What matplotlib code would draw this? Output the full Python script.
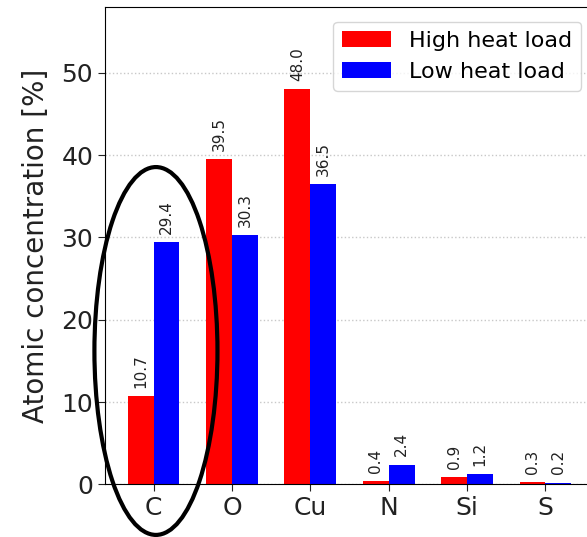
import matplotlib.pyplot as plt
from matplotlib.patches import Ellipse
import numpy as np

elements = ['C', 'O', 'Cu', 'N', 'Si', 'S']
high_load = [10.7, 39.5, 48.0, 0.4, 0.9, 0.3]
low_load = [29.4, 30.3, 36.5, 2.4, 1.2, 0.2]

x = np.arange(len(elements))
width = 0.33

fig = plt.figure(figsize=(5.87, 5.37), dpi=100)
ax = fig.add_axes([105 / 587, 1 - 484.3 / 537, 1 - 105 / 587, (484.3 - 7) / 537])

bars_hi = ax.bar(x - width / 2, high_load, width, color='red', label='High heat load', zorder=2)
bars_lo = ax.bar(x + width / 2, low_load, width, color='blue', label='Low heat load', zorder=2)

# value labels above every bar
for bars, vals in ((bars_hi, high_load), (bars_lo, low_load)):
    for b, v in zip(bars, vals):
        ax.text(b.get_x() + b.get_width() / 2, v + 1.0, f'{v:.1f}', rotation=90,
                ha='center', va='bottom', fontsize=11, color='#222222')

ax.set_xlim(-0.62, 5.53)
ax.set_ylim(0, 58)
ax.set_yticks([0, 10, 20, 30, 40, 50])
ax.set_xticks(x)
ax.set_xticklabels(elements)
ax.tick_params(axis='both', labelsize=18, length=5, colors='#222222')
ax.set_ylabel('Atomic concentration [%]', fontsize=20, color='#222222', labelpad=8)
ax.yaxis.grid(True, linestyle=':', color='#c8c8c8', linewidth=1, zorder=0)
ax.set_axisbelow(True)
ax.spines['right'].set_visible(False)

# highlight the carbon group
ax.add_patch(Ellipse((0.03, 16.2), 1.57, 44.7, fill=False, edgecolor='black',
                     linewidth=3, clip_on=False, zorder=5))

ax.legend(loc='upper right', fontsize=16, handlelength=2.2, borderaxespad=0,
          bbox_to_anchor=(581 / 587, 1 - 22 / 537), bbox_transform=fig.transFigure)

fig.savefig('out.png', dpi=100)
